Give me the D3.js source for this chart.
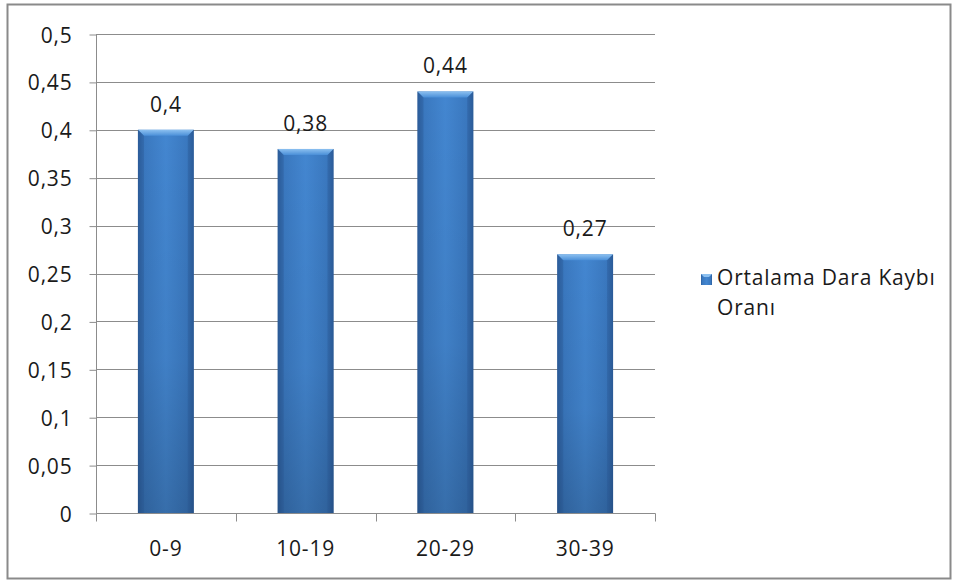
<!DOCTYPE html>
<html><head><meta charset="utf-8">
<script src="https://cdn.jsdelivr.net/npm/d3@7"></script>
<style>body{margin:0;background:#fff}svg{display:block}text{font-family:"Open Sans","Liberation Sans",sans-serif;fill:#1a1a1a}</style>
</head><body>
<script>
const categories = ["0-9","10-19","20-29","30-39"];
const values = [0.4, 0.38, 0.44, 0.27];
const yTicks = [0,0.05,0.1,0.15,0.2,0.25,0.3,0.35,0.4,0.45,0.5];
const seriesName = ["Ortalama Dara Kaybı","Oranı"];

const W=958,H=581;
const FS="21px", LS="0.8px";
const svg=d3.select("body").append("svg").attr("width",W).attr("height",H);
const defs=svg.append("defs");
const gH=defs.append("linearGradient").attr("id","gh").attr("x1","0").attr("x2","1").attr("y1","0").attr("y2","0");
gH.append("stop").attr("offset","0").attr("stop-color","#2c5e9c");
gH.append("stop").attr("offset","0.12").attr("stop-color","#3a78bf");
gH.append("stop").attr("offset","0.5").attr("stop-color","#4386d0");
gH.append("stop").attr("offset","0.88").attr("stop-color","#3a78bf");
gH.append("stop").attr("offset","1").attr("stop-color","#2c5e9c");
const gV=defs.append("linearGradient").attr("id","gv").attr("x1","0").attr("x2","0").attr("y1","0").attr("y2","1");
gV.append("stop").attr("offset","0").attr("stop-color","#000").attr("stop-opacity",0);
gV.append("stop").attr("offset","0.6").attr("stop-color","#000").attr("stop-opacity",0.05);
gV.append("stop").attr("offset","1").attr("stop-color","#000").attr("stop-opacity",0.18);
const gT=defs.append("linearGradient").attr("id","gt").attr("x1","0").attr("x2","0").attr("y1","0").attr("y2","1");
gT.append("stop").attr("offset","0").attr("stop-color","#8cc0f0");
gT.append("stop").attr("offset","1").attr("stop-color","#4a8fd8");

// outer border
svg.append("rect").attr("x",7.5).attr("y",4.5).attr("width",943).attr("height",574).attr("fill","#fff").attr("stroke","#8a8a8a").attr("stroke-width",2);

const L=96,R=655,T=34,B=513;
const x=d3.scaleBand().domain(categories).range([L,R]).paddingInner(0.6).paddingOuter(0.3);
const y=d3.scaleLinear().domain([0,0.5]).range([B,T]);
const fmt=v=>String(v).replace(".",",");

// gridlines
svg.append("g").selectAll("line").data(yTicks.slice(1)).join("line")
 .attr("x1",L).attr("x2",R).attr("y1",d=>Math.round(y(d))+0.5).attr("y2",d=>Math.round(y(d))+0.5)
 .attr("stroke","#8c8c8c").attr("stroke-width",1);

// y axis
const ya=svg.append("g").attr("transform",`translate(${L+0.5},0.5)`).call(d3.axisLeft(y).tickValues(yTicks).tickFormat(fmt).tickSize(7).tickPadding(17));
ya.select(".domain").attr("stroke","#8c8c8c").attr("d",`M0,${T}V${B}`);
ya.selectAll(".tick line").attr("stroke","#8c8c8c");
ya.selectAll(".tick text").attr("font-size",FS).attr("letter-spacing",LS).attr("fill","#1a1a1a").attr("font-family","'Open Sans',sans-serif").attr("dy","0.36em");

// x axis
const xb=d3.scaleLinear().domain([0,categories.length]).range([L,R]);
const xa=svg.append("g").attr("transform",`translate(0.5,${B+0.5})`);
xa.append("line").attr("x1",L).attr("x2",R).attr("stroke","#8c8c8c");
xa.selectAll("line.t").data(d3.range(categories.length+1)).join("line").attr("class","t")
 .attr("x1",d=>Math.round(xb(d))).attr("x2",d=>Math.round(xb(d))).attr("y1",0).attr("y2",8).attr("stroke","#8c8c8c");
svg.append("g").selectAll("text").data(categories).join("text")
 .attr("x",d=>x(d)+x.bandwidth()/2).attr("y",556).attr("text-anchor","middle").attr("font-size",FS).attr("letter-spacing",LS).text(d=>d);

// bars
const bars=svg.append("g").selectAll("g").data(categories).join("g");
bars.append("rect").attr("x",d=>x(d)).attr("width",x.bandwidth())
 .attr("y",(d,i)=>y(values[i])).attr("height",(d,i)=>B-y(values[i])).attr("fill","url(#gh)");
bars.append("rect").attr("x",d=>x(d)).attr("width",x.bandwidth())
 .attr("y",(d,i)=>y(values[i])).attr("height",(d,i)=>B-y(values[i])).attr("fill","url(#gv)");
bars.append("path").attr("d",(d,i)=>{const x0=x(d),x1=x0+x.bandwidth(),t=y(values[i]);return `M${x0},${t}H${x1}L${x1-6},${t+6}H${x0+6}Z`;}).attr("fill","url(#gt)");
bars.append("path").attr("d",(d,i)=>{const x0=x(d),t=y(values[i]);return `M${x0},${t}L${x0+6},${t+6}V${B}H${x0}Z`;}).attr("fill","#2a5a96").attr("opacity",0.35);
bars.append("path").attr("d",(d,i)=>{const x1=x(d)+x.bandwidth(),t=y(values[i]);return `M${x1},${t}L${x1-6},${t+6}V${B}H${x1}Z`;}).attr("fill","#2a5a96").attr("opacity",0.35);

// value labels
svg.append("g").selectAll("text").data(categories).join("text")
 .attr("x",d=>x(d)+x.bandwidth()/2).attr("y",(d,i)=>y(values[i])-18).attr("text-anchor","middle").attr("font-size",FS).attr("letter-spacing",LS)
 .text((d,i)=>fmt(values[i]));

// legend
const lg=svg.append("g");
lg.append("rect").attr("x",701).attr("y",274).attr("width",11).attr("height",11).attr("fill","url(#gh)");
lg.append("path").attr("d","M701,274H712L709,277H704Z").attr("fill","#8cc0f0");
lg.selectAll("text").data(seriesName).join("text").attr("x",717).attr("y",(d,i)=>285+i*30).attr("font-size",FS).attr("letter-spacing",LS).text(d=>d);
</script>
</body></html>
